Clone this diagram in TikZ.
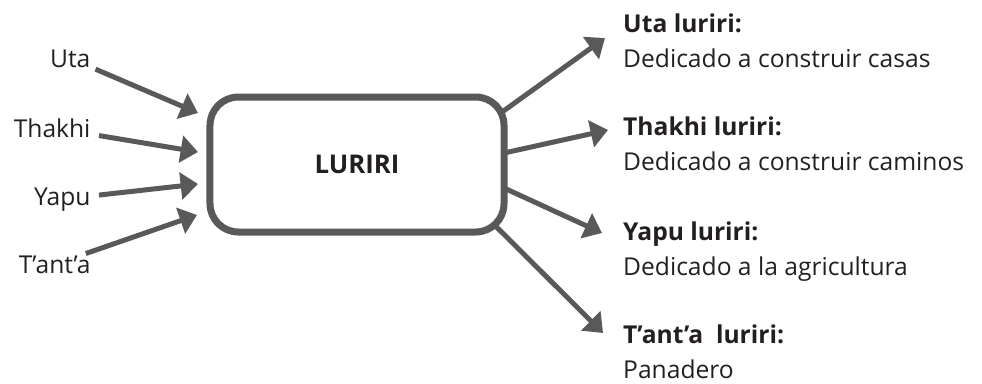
\documentclass[tikz,border=0pt]{standalone}
\usepackage{fontspec}
\setmainfont{Open Sans}
\usetikzlibrary{arrows.meta,calc,positioning}
\definecolor{boxgray}{HTML}{58595B}
\definecolor{textblack}{HTML}{231F20}

\begin{document}
\begin{tikzpicture}[x=0.03cm,y=-0.03cm,
  every node/.style={font=\fontsize{21}{25}\selectfont, text=textblack},
  arr/.style={draw=boxgray, line width=0.15cm, -{Triangle[length=0.52cm,width=0.8cm]}},
  word/.style={inner xsep=0.25cm, inner ysep=0.05cm, anchor=base east},
  title/.style={inner sep=0pt, anchor=base west, font=\fontsize{21}{25}\selectfont\bfseries},
  desc/.style={inner sep=0pt, anchor=base west}]
  \useasboundingbox (0,0) rectangle (982,383);

  % central box
  \node[draw=boxgray, fill=white, line width=0.21cm, rounded corners=0.85cm,
        minimum width=8.82cm, minimum height=4.05cm, outer sep=0pt,
        font=\fontsize{22}{26}\selectfont\bfseries] (luriri) at (357,164.5) {LURIRI};

  % words on the left
  \node[word] (uta) at (99,67) {Uta};
  \node[word] (thakhi) at (99,137) {Thakhi};
  \node[word] (yapu) at (99,205) {Yapu};
  \node[word] (tanta) at (99,273) {T’ant’a};

  \coordinate (in1) at (198,113);
  \coordinate (in2) at (198,152);
  \coordinate (in3) at (198,184);
  \coordinate (in4) at (197,215);

  \draw[arr] (uta) -- (in1);
  \draw[arr] (thakhi) -- (in2);
  \draw[arr] (yapu) -- (in3);
  \draw[arr] (tanta) -- (in4);

  % kinds of luriri on the right
  \node[title] (utaT) at (623,32) {Uta luriri:};
  \node[desc, below=1.05cm of utaT.base west, anchor=base west] (utaD) {Dedicado a construir casas};
  \node[title] (thakhiT) at (623,135) {Thakhi luriri:};
  \node[desc, below=1.05cm of thakhiT.base west, anchor=base west] (thakhiD) {Dedicado a construir caminos};
  \node[title] (yapuT) at (623,240) {Yapu luriri:};
  \node[desc, below=1.05cm of yapuT.base west, anchor=base west] (yapuD) {Dedicado a la agricultura};
  \node[title] (tantaT) at (623,343) {T’ant’a~~luriri:};
  \node[desc, below=1.05cm of tantaT.base west, anchor=base west] (tantaD) {Panadero};

  \coordinate (out1) at (605,38);
  \coordinate (out2) at (608,130);
  \coordinate (out3) at (602,233);
  \coordinate (out4) at (603,333);

  \draw[arr] ($(luriri.east)+(-4,-51)$) -- (out1);
  \draw[arr] ($(luriri.east)+(0,-11.5)$) -- (out2);
  \draw[arr] ($(luriri.east)+(0,23.5)$) -- (out3);
  \draw[arr] ($(luriri.east)+(-9,61)$) -- (out4);
\end{tikzpicture}
\end{document}
